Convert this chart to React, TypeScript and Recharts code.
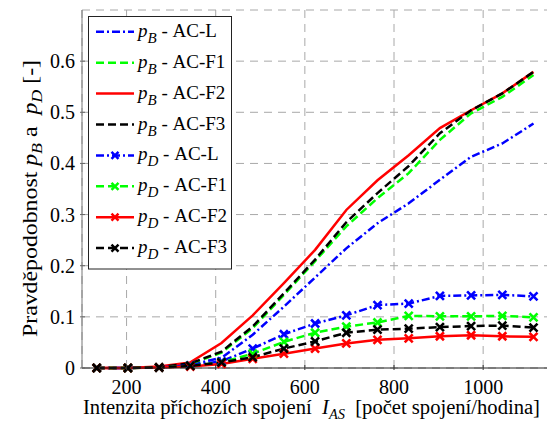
import { LineChart, Line, XAxis, YAxis, CartesianGrid, Legend } from "recharts";

// intenzita příchozích spojení [počet spojení/hodina]
const intensity = [133, 203, 273, 343, 413, 483, 553, 623, 693, 763, 833, 903, 973, 1043, 1113];

// pravděpodobnost blokování p_B
const pB_L = [0, 0, 0.001, 0.006, 0.02, 0.065, 0.12, 0.177, 0.234, 0.283, 0.322, 0.368, 0.413, 0.439, 0.478];
const pB_F1 = [0, 0, 0.002, 0.008, 0.03, 0.078, 0.143, 0.209, 0.277, 0.332, 0.381, 0.446, 0.498, 0.53, 0.573];
const pB_F2 = [0, 0, 0.003, 0.011, 0.049, 0.103, 0.166, 0.231, 0.309, 0.367, 0.416, 0.469, 0.504, 0.537, 0.579];
const pB_F3 = [0, 0, 0.002, 0.009, 0.032, 0.081, 0.146, 0.212, 0.285, 0.342, 0.395, 0.459, 0.504, 0.537, 0.579];

// pravděpodobnost odmítnutí p_D
const pD_L = [0, 0, 0.001, 0.005, 0.013, 0.038, 0.066, 0.087, 0.103, 0.123, 0.126, 0.141, 0.142, 0.143, 0.14];
const pD_F1 = [0, 0, 0.001, 0.004, 0.011, 0.028, 0.051, 0.069, 0.081, 0.089, 0.102, 0.101, 0.101, 0.102, 0.099];
const pD_F2 = [0, 0, 0.001, 0.003, 0.008, 0.018, 0.028, 0.038, 0.048, 0.055, 0.058, 0.062, 0.064, 0.062, 0.061];
const pD_F3 = [0, 0, 0.001, 0.004, 0.011, 0.021, 0.038, 0.052, 0.069, 0.075, 0.077, 0.08, 0.082, 0.083, 0.079];

const xTicks = [200, 400, 600, 800, 1000];
const yTicks = [0, 0.1, 0.2, 0.3, 0.4, 0.5, 0.6, 0.7];

const FONT = "'Liberation Serif', 'Times New Roman', serif";
const DASHDOT = "8 3 2 3";
const DASHED = "8 4";
const NB = "\u00A0";

const seriesList = [
  { key: "pB_L", values: pB_L, sym: "B", name: "AC-L", color: "#0000ff", dash: DASHDOT, marker: false },
  { key: "pB_F1", values: pB_F1, sym: "B", name: "AC-F1", color: "#00ff00", dash: DASHED, marker: false },
  { key: "pB_F2", values: pB_F2, sym: "B", name: "AC-F2", color: "#ff0000", dash: undefined, marker: false },
  { key: "pB_F3", values: pB_F3, sym: "B", name: "AC-F3", color: "#000000", dash: DASHED, marker: false },
  { key: "pD_L", values: pD_L, sym: "D", name: "AC-L", color: "#0000ff", dash: DASHDOT, marker: true },
  { key: "pD_F1", values: pD_F1, sym: "D", name: "AC-F1", color: "#00ff00", dash: DASHED, marker: true },
  { key: "pD_F2", values: pD_F2, sym: "D", name: "AC-F2", color: "#ff0000", dash: undefined, marker: true },
  { key: "pD_F3", values: pD_F3, sym: "D", name: "AC-F3", color: "#000000", dash: DASHED, marker: true },
];

const data = intensity.map((x, i) => {
  const row: Record<string, number> = { x };
  seriesList.forEach((s) => {
    row[s.key] = s.values[i];
  });
  return row;
});

const crossPath = (cx: number, cy: number, r: number) =>
  `M${cx - r},${cy - r}L${cx + r},${cy + r}M${cx - r},${cy + r}L${cx + r},${cy - r}`;

const xMark = (color: string) => (props: any) => {
  const { cx, cy, index } = props;
  if (cx == null || cy == null) return <g key={index} />;
  return <path key={index} d={crossPath(cx, cy, 4)} stroke={color} strokeWidth={2.6} fill="none" />;
};

const BottomTick = (props: any) => {
  const { x, y, payload } = props;
  return (
    <g>
      <line x1={x} y1={y} x2={x} y2={y - 5} stroke="#333" />
      <text x={x} y={y + 24} textAnchor="middle" fontFamily={FONT} fontSize={20} fill="#000">
        {payload.value}
      </text>
    </g>
  );
};

const TopTick = (props: any) => {
  const { x, y } = props;
  return <line x1={x} y1={y} x2={x} y2={y + 5} stroke="#555" />;
};

const LeftTick = (props: any) => {
  const { x, y, payload } = props;
  if (payload.value > 0.65) return <g />;
  return (
    <g>
      <line x1={x} y1={y} x2={x + 5} y2={y} stroke="#666" />
      <text x={x - 5} y={y + 7} textAnchor="end" fontFamily={FONT} fontSize={20} fill="#000">
        {payload.value === 0 ? "0" : payload.value.toFixed(1)}
      </text>
    </g>
  );
};

const YTitle = () => (
  <text
    transform="translate(37,337) rotate(-90)"
    textAnchor="start"
    fontFamily={FONT}
    fontSize={20}
    fill="#000"
    textLength={277}
    lengthAdjust="spacingAndGlyphs"
  >
    {`Pravděpodobnost${NB}`}
    <tspan fontStyle="italic">p</tspan>
    <tspan fontStyle="italic" fontSize={15} dy={5}>B</tspan>
    <tspan dy={-5}>{`${NB}a${NB}${NB}`}</tspan>
    <tspan fontStyle="italic">p</tspan>
    <tspan fontStyle="italic" fontSize={15} dy={5}>D</tspan>
    <tspan dy={-5}>{`${NB}[-]`}</tspan>
  </text>
);

const XTitle = () => (
  <text
    x={83}
    y={414}
    textAnchor="start"
    fontFamily={FONT}
    fontSize={20}
    fill="#000"
    textLength={457}
    lengthAdjust="spacingAndGlyphs"
  >
    {`Intenzita příchozích spojení${NB}${NB}`}
    <tspan fontStyle="italic">I</tspan>
    <tspan fontStyle="italic" fontSize={14} dy={5}>AS</tspan>
    <tspan dy={-5}>{`${NB}${NB}[počet spojení/hodina]`}</tspan>
  </text>
);

const LegendBox = () => {
  const rowH = 30.9;
  return (
    <svg width={144} height={254} style={{ display: "block" }}>
      <rect x={0.5} y={0.5} width={143} height={252.5} fill="#fff" stroke="#222" />
      {seriesList.map((s, i) => {
        const cy = 15.8 + i * rowH;
        return (
          <g key={s.key}>
            <line x1={8} y1={cy} x2={46} y2={cy} stroke={s.color} strokeWidth={2.5} strokeDasharray={s.dash} />
            {s.marker && <path d={crossPath(27, cy, 3.5)} stroke={s.color} strokeWidth={2.5} fill="none" />}
            <text x={50} y={cy + 5} fontFamily={FONT} fontSize={19} fill="#000">
              <tspan fontStyle="italic">p</tspan>
              <tspan fontStyle="italic" fontSize={15} dy={6}>{s.sym}</tspan>
              <tspan dy={-6}>{`${NB}-${NB}${s.name}`}</tspan>
            </text>
          </g>
        );
      })}
    </svg>
  );
};

export default function App() {
  return (
    <div style={{ position: "fixed", left: 0, top: 0, width: 547, height: 423, overflow: "hidden", background: "#fff" }}>
      <LineChart width={562} height={423} data={data} margin={{ top: 10, right: 12, bottom: 0, left: 0 }}>
        <CartesianGrid stroke="#a8a8a8" strokeDasharray="8 6" />
        <XAxis
          dataKey="x"
          type="number"
          domain={[100, 1150]}
          ticks={xTicks}
          height={55}
          tickSize={0}
          tickLine={false}
          tick={<BottomTick />}
          stroke="#222"
          allowDataOverflow
        />
        <XAxis
          xAxisId="top"
          dataKey="x"
          type="number"
          orientation="top"
          domain={[100, 1150]}
          ticks={xTicks}
          height={0}
          tickSize={0}
          tickLine={false}
          tick={<TopTick />}
          stroke="#555"
        />
        <YAxis
          type="number"
          domain={[0, 0.7]}
          ticks={yTicks}
          width={82}
          tickSize={0}
          tickLine={false}
          tick={<LeftTick />}
          stroke="#777"
          label={<YTitle />}
        />
        <Legend
          layout="vertical"
          align="center"
          verticalAlign="middle"
          wrapperStyle={{ left: 88, top: 16, width: 144, height: 254 }}
          content={<LegendBox />}
        />
        {seriesList.map((s) => (
          <Line
            key={s.key}
            dataKey={s.key}
            type="linear"
            stroke={s.color}
            strokeWidth={2.5}
            strokeDasharray={s.dash}
            dot={s.marker ? xMark(s.color) : false}
            activeDot={false}
            isAnimationActive={false}
          />
        ))}
      </LineChart>
      <svg width={547} height={423} style={{ position: "absolute", left: 0, top: 0, pointerEvents: "none" }}>
        <XTitle />
      </svg>
    </div>
  );
}
